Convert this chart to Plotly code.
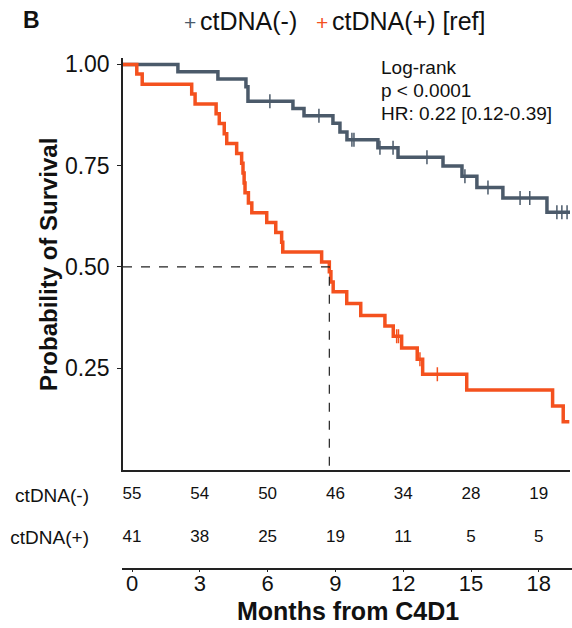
import plotly.graph_objects as go

# ---------------- data ----------------
# ctDNA(-) Kaplan-Meier step curve (months, survival)
neg_time = [0, 2.43, 4.20, 5.44, 5.53, 7.52, 8.01, 9.29, 9.60, 9.91, 11.28, 12.17, 14.16, 15.00, 15.66, 16.81, 18.76, 19.78]
neg_surv = [1.000, 0.982, 0.964, 0.945, 0.909, 0.891, 0.873, 0.855, 0.833, 0.814, 0.794, 0.771, 0.749, 0.724, 0.696, 0.670, 0.635, 0.635]
neg_cens_time = [6.50, 8.67, 10.13, 10.22, 11.37, 11.95, 13.45, 15.13, 16.15, 17.57, 18.00, 19.20, 19.42, 19.65]

# ctDNA(+) Kaplan-Meier step curve
pos_time = [0, 0.61, 0.85, 3.04, 3.19, 4.12, 4.26, 4.48, 4.59, 5.03, 5.25, 5.31, 5.36, 5.40, 5.55, 5.70,
            6.36, 6.76, 7.02, 7.07, 8.79, 9.13, 9.20, 9.30, 9.90, 10.52, 11.59, 11.96, 12.33, 13.02, 13.26,
            15.21, 19.01, 19.48, 19.75]
pos_surv = [1.000, 0.976, 0.951, 0.927, 0.902, 0.878, 0.854, 0.829, 0.805, 0.780, 0.756, 0.732, 0.707, 0.683, 0.658, 0.634,
            0.610, 0.585, 0.561, 0.537, 0.512, 0.488, 0.463, 0.439, 0.410, 0.380, 0.354, 0.329, 0.300, 0.272, 0.235,
            0.196, 0.157, 0.118, 0.118]
pos_cens_time = [12.11, 12.19, 13.14, 13.91]

median_pos = 9.13

groups = ["ctDNA(-)", "ctDNA(+) [ref]"]
row_labels = ["ctDNA(-)", "ctDNA(+)"]
risk_times = [0, 3, 6, 9, 12, 15, 18]
risk_neg = [55, 54, 50, 46, 34, 28, 19]
risk_pos = [41, 38, 25, 19, 11, 5, 5]

stat_text = ["Log-rank", "p < 0.0001", "HR: 0.22 [0.12-0.39]"]

# ---------------- style ----------------
GRAY = "#4b5a6a"
ORANGE = "#f4511e"
FONT = "Liberation Sans, Arial, sans-serif"
W, H = 572, 628


def surv_at(times, survs, t):
    s = survs[0]
    for ti, si in zip(times, survs):
        if ti <= t:
            s = si
    return s


fig = go.Figure()

for times, survs, cens, col in [(neg_time, neg_surv, neg_cens_time, GRAY),
                                (pos_time, pos_surv, pos_cens_time, ORANGE)]:
    fig.add_trace(go.Scatter(x=times, y=survs, mode="lines", line=dict(color=col, width=3.5, shape="hv"),
                             showlegend=False, hoverinfo="skip", xaxis="x", yaxis="y"))
    fig.add_trace(go.Scatter(x=cens, y=[surv_at(times, survs, c) for c in cens], mode="markers",
                             marker=dict(symbol="line-ns", size=10, line=dict(color=col, width=1.5)),
                             showlegend=False, hoverinfo="skip", xaxis="x", yaxis="y"))

# median line
fig.add_trace(go.Scatter(x=[0, median_pos, median_pos], y=[0.5, 0.5, 0], mode="lines",
                         line=dict(color="#222222", width=1.2, dash="dash"),
                         showlegend=False, hoverinfo="skip", xaxis="x", yaxis="y"))

# risk table
fig.add_trace(go.Scatter(x=risk_times, y=[1] * len(risk_times), mode="text",
                         text=[str(v) for v in risk_neg], textfont=dict(size=17, color="#111", family=FONT),
                         showlegend=False, hoverinfo="skip", xaxis="x2", yaxis="y2"))
fig.add_trace(go.Scatter(x=risk_times, y=[0] * len(risk_times), mode="text",
                         text=[str(v) for v in risk_pos], textfont=dict(size=17, color="#111", family=FONT),
                         showlegend=False, hoverinfo="skip", xaxis="x2", yaxis="y2"))

px_x = lambda p: p / W
px_y = lambda p: 1 - p / H

fig.update_layout(
    width=W, height=H, autosize=False,
    margin=dict(l=0, r=0, t=0, b=0),
    plot_bgcolor="white", paper_bgcolor="white",
    font=dict(family=FONT, color="#111"),
    showlegend=False,
    xaxis=dict(domain=[px_x(123), px_x(570)], range=[0, 19.78], showticklabels=False, ticks="",
               showgrid=False, zeroline=False, showline=True, linecolor="#222", linewidth=1.5,
               anchor="y"),
    yaxis=dict(domain=[px_y(468), px_y(52)], range=[0, 1.017], tickvals=[0.25, 0.5, 0.75, 1.0],
               ticktext=["0.25", "0.50", "0.75", "1.00"], ticks="outside", ticklen=4, tickcolor="#222",
               tickfont=dict(size=23, color="#111"), ticklabelstandoff=3, showgrid=False, zeroline=False,
               showline=True, linecolor="#222", linewidth=1.5, anchor="x"),
    xaxis2=dict(domain=[px_x(122), 1.0], range=[-10 / 22.6, 440 / 22.6], tickvals=risk_times,
                ticks="outside", ticklen=3, tickcolor="#222", tickfont=dict(size=22, color="#111"),
                ticklabelstandoff=-8,
                showgrid=False, zeroline=False, showline=True, linecolor="#222", linewidth=1.5,
                anchor="y2"),
    yaxis2=dict(domain=[px_y(567), px_y(472)], range=[-0.698, 1.5], tickvals=[1, 0], ticktext=row_labels,
                ticks="", tickfont=dict(size=19, color="#111"), ticklabelstandoff=32,
                showgrid=False, zeroline=False, showline=False, anchor="x2"),
)

annotations = [
    dict(text="<b>B</b>", x=px_x(21), y=px_y(14), xref="paper", yref="paper", xanchor="left",
         yanchor="middle", showarrow=False, font=dict(size=23, color="#111")),
    dict(text="<b>Probability of Survival</b>", x=px_x(33), y=px_y(261), xref="paper", yref="paper",
         textangle=-90, showarrow=False, font=dict(size=24, color="#111")),
    dict(text="<b>Months from C4D1</b>", x=px_x(348), y=px_y(627), xref="paper", yref="paper",
         xanchor="center", yanchor="bottom", showarrow=False, font=dict(size=25, color="#111")),
]
# legend (symbol + label)
for name, col, sx, tx in zip(groups, [GRAY, ORANGE], [190, 322], [198, 330]):
    annotations.append(dict(text="+", x=px_x(sx), y=px_y(17), xref="paper", yref="paper",
                            xanchor="center", yanchor="middle", showarrow=False,
                            font=dict(size=21, color=col)))
    annotations.append(dict(text=name, x=px_x(tx), y=px_y(15), xref="paper", yref="paper",
                            xanchor="left", yanchor="middle", showarrow=False,
                            font=dict(size=25, color="#111")))
for i, t in enumerate(stat_text):
    annotations.append(dict(text=t, x=px_x(379), y=px_y(62 + 23.3 * i), xref="paper", yref="paper",
                            xanchor="left", yanchor="middle", showarrow=False,
                            font=dict(size=19, color="#111")))
fig.update_layout(annotations=annotations)

fig.write_html("out.html", config={"displayModeBar": False},
               post_script="document.body.style.margin='0';document.body.style.overflow='hidden';")
